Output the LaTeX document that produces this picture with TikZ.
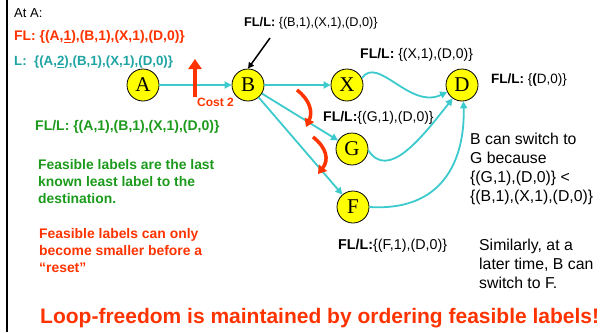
\documentclass[tikz,border=0pt]{standalone}
\usepackage{fontspec}
\setmainfont{Liberation Sans}
\newfontfamily\nodeserif{Liberation Serif}
\usetikzlibrary{arrows.meta}
\definecolor{myred}{HTML}{FF3300}
\definecolor{myteal}{HTML}{1FA3A3}
\definecolor{edgeteal}{HTML}{3CCACC}
\definecolor{mygreen}{HTML}{1C9A1C}
\definecolor{nodeyellow}{HTML}{FFFF00}
\tikzset{
  vert/.style={circle,draw=black,line width=0.8pt,fill=nodeyellow,minimum size=32pt,inner sep=0pt,font=\nodeserif\fontsize{21}{21}\selectfont},
  edge/.style={draw=edgeteal,line width=1.8pt,-{Triangle[length=7pt,width=7pt]}},
  redarrow/.style={draw=myred,line width=3.5pt,-{Triangle[length=8pt,width=10pt]}},
  txt/.style={anchor=west,inner sep=0pt,font=\fontsize{14}{16}\selectfont},
  bigtxt/.style={anchor=north west,inner sep=0pt,align=left,font=\fontsize{15.8}{19}\selectfont},
  greentxt/.style={anchor=north west,inner sep=0pt,align=left,text=mygreen,font=\bfseries\fontsize{13.9}{17}\selectfont},
}
\begin{document}
\begin{tikzpicture}[x=1pt,y=-1pt]
\useasboundingbox (0,0) rectangle (601,332);
\draw[line width=2pt] (7,0) -- (7,332);

\node[vert] (A) at (143,85) {A};
\node[vert] (B) at (248,85) {B};
\node[vert] (X) at (347,85) {X};
\node[vert] (D) at (462,85) {D};
\node[vert] (G) at (352,149) {G};
\node[vert] (F) at (353,207) {F};

\draw[edge] (A) -- (B);
\draw[edge] (B) -- (X);
\draw[edge] (B) -- (G);
\draw[edge] (B) -- (F);
\draw[edge] (X.25) .. controls (378,55) and (410,110) .. (D.205);
\draw[edge] (G.-5) .. controls (388,180) and (420,140) .. (D.235);
\draw[edge] (F.0) .. controls (450,212) and (465,150) .. (D.275);

\node[txt,font=\fontsize{13}{15}\selectfont] (ata) at (14,13) {At A:};
\node[txt,text=myred,font=\bfseries\fontsize{13.9}{16}\selectfont] (fl) at (14,37) {FL: \{(A,\underline{1}),(B,1),(X,1),(D,0)\}};
\node[txt,text=myteal,font=\bfseries\fontsize{13.3}{16}\selectfont] (l) at (14,62) {L:\ \ \{(A,\underline{2}),(B,1),(X,1),(D,0)\}};

\coordinate (costtop) at (195,59);
\coordinate (costbot) at (195,97);
\draw[draw=myred,line width=4pt,-{Triangle[length=10pt,width=13pt]}] (costbot) -- (costtop);
\node[txt,text=myred,font=\bfseries\fontsize{12}{14}\selectfont] (cost) at (197,102) {Cost 2};

\node[txt,font=\fontsize{12.7}{15}\selectfont] (flb) at (244,23) {\textbf{FL/L:} \{(B,1),(X,1),(D,0)\}};
\draw[line width=1.5pt,-{Triangle[length=6pt,width=6pt]}] (270,38) -- (B.north);
\node[txt] (flx) at (360,55) {\textbf{FL/L:} \{(X,1),(D,0)\}};
\node[txt,font=\fontsize{13.5}{16}\selectfont] (fld) at (491,80) {\textbf{FL/L:} \{\textbf{(}D,0)\}};
\node[txt] (flg) at (323,118) {\textbf{FL/L:}\{(G,1),(D,0)\}};
\node[txt,font=\fontsize{14.3}{16}\selectfont] (flf) at (338,246) {\textbf{FL/L:}\{(F,1),(D,0)\}};

\node[txt,text=mygreen,font=\bfseries\fontsize{14}{16}\selectfont] (fla) at (35,127) {FL/L: \{(A,1),(B,1),(X,1),(D,0)\}};

\node[greentxt] (feas1) at (38,159) {Feasible labels are the last\\known least label to the\\destination.};
\node[greentxt,text=myred] (feas2) at (39,228) {Feasible labels can only\\become smaller before a\\“reset”};

\node[bigtxt] (switch) at (470,133) {B can switch to\\G because\\\{(G,1),(D,0)\} <\\\{(B,1),(X,1),(D,0)\}};
\node[bigtxt] (similar) at (479,239) {Similarly, at a\\later time, B can\\switch to F.};

\draw[redarrow] (297,90) .. controls (310,100) and (313,112) .. (306,127);
\draw[redarrow] (313,137) .. controls (327,148) and (329,160) .. (318,174);

\node[anchor=west,inner sep=0pt,text=myred,font=\bfseries\fontsize{21}{24}\selectfont] (loop) at (40,318) {Loop-freedom is maintained by ordering feasible labels!};
\end{tikzpicture}
\end{document}
